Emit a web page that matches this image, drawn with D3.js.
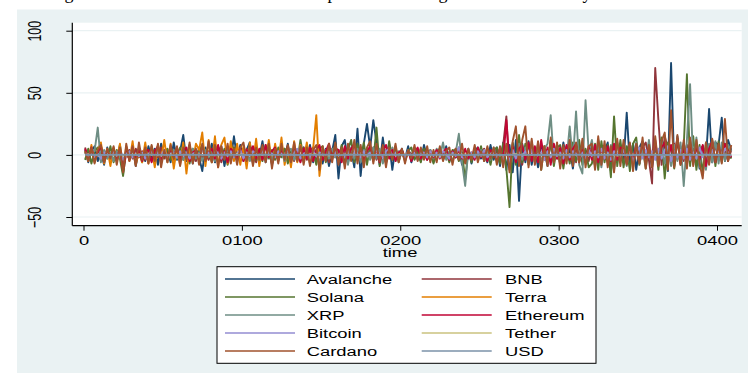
<!DOCTYPE html>
<html>
<head>
<meta charset="utf-8">
<script src="https://cdn.jsdelivr.net/npm/d3@7"></script>
<style>
  body { margin: 0; background: #fff; }
  svg { display: block; }
  text { font-family: "Liberation Sans", Arial, sans-serif; fill: #000; }
</style>
</head>
<body>
<svg id="chart" width="748" height="374"></svg>
<script>
// daily values, one every 2 time units starting at t = 1
const avalanche = [
  4, -6, 3, 7, -5, 2, -8, 6, -3, 5,
  -4, 8, -7, 3, -2, 6, -9, 4, 1, -5,
  7, -3, 5, -8, 9, -2, 4, -6, 10, -4,
  3, 16, -5, 8, -7, 4, -2, -13, 6, -3,
  9, -6, 2, 7, -9, 5, -4, 15, -3, 8,
  -5, 4, 10, -7, 3, -2, 11, -6, 5, -8,
  2, -4, 7, -3, 9, -6, 4, 1, -5, 6,
  -3, 8, -6, 4, 2, -7, 5, -9, 3, 16,
  -19, 7, 12, -6, 4, -10, 21, -17, 9, 25,
  6, 28, 10, -8, 14, -5, 9, -12, 6, -4,
  5, -3, 7, -6, 2, 4, -5, 8, -2, 3,
  -6, 4, 2, -3, 7, -5, 3, -2, 6, -8,
  -4, 5, -7, 3, 6, -3, 2, -6, 8, -4,
  6, -9, 10, -12, 8, -14, 12, -37, 9, -6,
  11, -8, 5, -10, 7, 3, -9, 12, -5, 8,
  -7, 10, -4, 6, -11, 8, -3, 9, -6, 4,
  7, -9, 12, -5, 3, 10, -13, 6, -4, 8,
  -6, 34, -8, 9, -12, 6, 11, -7, 4, -10,
  8, -5, 12, 6, -13, 74, -9, 15, -6, 10,
  -8, 12, -5, 9, -11, 7, -4, 37, -6, 10,
  8, 30, -5, 12, 4
];
const bnb = [
  6, -3, 4, -5, 2, 5, -4, 3, -2, 4,
  -5, 3, -15, 2, 4, -3, 5, -2, 3, -4,
  2, -5, 4, -2, 6, -3, 1, 4, -4, 3,
  -2, 5, -4, 3, 1, -5, 6, -3, 2, -4,
  4, -2, 5, -6, 3, 2, -4, 6, -3, 1,
  -3, 5, -2, 4, -6, 3, 2, -4, 7, -2,
  3, -4, 2, 5, -3, 1, -5, 4, -2, 6,
  -4, 3, 6, -5, 2, -3, 4, -6, 5, -2,
  4, -3, 6, -2, 3, -5, 7, -4, 2, 5,
  -3, 6, -4, 2, 5, -6, 3, -2, 4, -3,
  2, -4, 3, 1, -3, 4, -2, 3, -4, 2,
  -3, 2, 4, -2, 3, -4, 1, 5, -3, 2,
  -5, 3, -2, 4, -3, 2, 5, -4, 3, -2,
  4, -6, 8, 31, -12, 9, -5, 7, -8, 6,
  -4, 7, -3, 5, -6, 4, 2, -5, 6, -3,
  5, -4, 7, -2, 3, -6, 8, -3, 4, -5,
  6, -3, 4, -7, 5, 2, -4, 8, -5, 3,
  -6, 4, 9, -5, 3, -7, 6, 10, -4, -23,
  70, 28, -8, 15, 5, -6, 9, -4, 7, -5,
  8, -6, 5, -9, 4, 7, -5, 6, -3, 8,
  -4, 6, 3, -5, 4
];
const solana = [
  -4, 5, -7, 3, 6, -5, 2, -3, 7, -6,
  4, -3, -17, 5, -4, 6, -2, 3, -6, 4,
  -5, 7, -3, 4, -6, 2, 5, -4, 3, -2,
  6, -4, 3, -7, 5, -2, 4, 8, -5, 3,
  -6, 4, 7, -3, 5, -8, 3, 6, -4, 2,
  5, -7, 3, 6, -4, 2, -5, 8, -3, 4,
  -4, 6, -2, 5, -7, 3, 4, -5, 12, -3,
  6, -4, 3, -8, 5, 7, -6, 4, -3, 9,
  -5, 8, -7, 4, 12, -6, 9, -4, 10, -8,
  7, -5, 22, -9, 6, -7, 11, -4, 5, -6,
  4, -5, 3, 6, -4, 2, -6, 5, -3, 4,
  -7, 3, 5, -4, 2, -6, 4, 3, -5, 2,
  -20, 4, -6, 5, -3, 7, -5, 3, -8, 4,
  6, -7, 9, -11, -42, 10, -8, 16, -6, 9,
  -8, 11, -6, 9, -12, 7, -5, 10, -9, 6,
  8, -11, 6, -7, 10, -5, 12, -8, 5, -10,
  -7, 9, -12, 11, -6, 8, -18, 31, -9, 12,
  -10, 7, -13, 9, 14, -8, 6, -11, 10, -7,
  9, -12, 14, -19, 10, 6, -11, 13, -8, 7,
  65, -9, 15, -12, 8, -15, 10, -7, 12, -9,
  11, -6, 9, 5, -3
];
const terra = [
  3, -5, 8, -6, 4, 10, -7, 5, -9, 6,
  -4, 9, -12, 7, -5, 11, -8, 3, -6, 10,
  -7, 5, -10, 8, -4, 12, -6, 9, -11, 6,
  -8, 10, -15, 7, -5, 9, 4, 18, -9, 12,
  -6, 15, -10, 8, 14, -7, 11, -5, 9, -8,
  7, -11, 10, -6, 13, -9, 6, -4, 12, -7,
  9, -5, 14, -8, 6, -10, 11, -6, 8, -4,
  10, -7, 5, 32, -17, 6
];
const xrp = [
  2, -4, 5, 3, 22, -6, 4, -3, 2, -5,
  3, -2, -8, 4, -3, 5, -2, 3, -4, 2,
  -3, 4, -2, 5, -4, 3, -5, 2, 4, -3,
  2, -4, 3, -2, 5, -3, 2, -5, 4, -2,
  3, -5, 2, 4, -3, 5, -2, 3, -4, 2,
  -3, 4, -5, 2, 3, -4, 6, -2, 3, -5,
  4, -3, 2, -5, 3, 5, -4, 2, -3, 4,
  -2, 5, -4, 3, -6, 2, 4, -3, 5, -2,
  3, -5, 4, -8, 6, -3, 5, -6, 4, 3,
  -4, 6, -3, 5, -7, 4, -2, 6, -5, 3,
  2, -3, 4, -2, 3, -4, 5, -3, 2, 4,
  -3, 5, -2, 10, -4, 3, -5, 2, 17, -6,
  -25, 4, -3, 5, -2, 4, -5, 3, -4, 6,
  -3, 5, -6, 8, -10, 7, -5, 9, -4, 6,
  -5, 8, -4, 6, -7, 5, 9, 32, -6, 7,
  -8, 6, -4, 23, -5, 35, -8, -15, 44, 2,
  12, -6, 9, -10, 7, -5, 8, -12, 10, -4,
  6, -9, 8, -5, 10, -7, 5, -8, 12, -6,
  9, -4, 11, -7, 6, -9, 8, -5, 10, -25,
  12, 57, -8, 14, -10, 7, -12, 9, -6, 11,
  -7, 10, -5, 8, 3
];
const ethereum = [
  5, -3, 6, -4, 2, 7, -5, 3, -2, 4,
  -3, 5, -12, 3, -4, 6, -2, 4, -5, 3,
  4, -6, 3, 7, -4, 2, -3, 5, -2, 6,
  -4, 3, 6, -5, 2, 4, -3, 7, -4, 2,
  5, -3, 8, -4, 3, -6, 5, 2, -3, 6,
  -5, 4, 2, 7, -3, 5, -4, 8, -2, 3,
  6, -4, 3, -2, 7, -5, 4, 2, -6, 5,
  -3, 6, -5, 4, 8, -4, 3, 9, -2, 5,
  4, -6, 7, -3, 5, 9, -4, 6, -5, 3,
  7, -4, 5, -6, 3, 8, -3, 4, -5, 2,
  4, -2, 3, -5, 2, 6, -3, 2, -4, 3,
  -2, 4, -3, 2, 5, -4, 3, -2, 4, -3,
  5, -3, 2, -4, 6, -2, 3, -5, 4, 2,
  -4, 6, -5, 28, -9, 7, -6, 5, 8, -4,
  10, -5, 7, -6, 12, -4, 6, -8, 9, -3,
  6, -7, 8, -4, 5, 9, -6, 4, -5, 7,
  -4, 8, -6, 5, -3, 7, -5, 9, -4, 6,
  5, -7, 6, -4, 8, -5, 10, -3, 7, -6,
  12, -8, 6, 10, -5, 8, -4, 13, -7, 6,
  -5, 9, -6, 7, -4, 8, -9, 5, 11, -6,
  7, -4, 9, 3, -2
];
const bitcoin = [
  2, -1, 3, -2, 1, -3, 2, 1, -2, 3,
  -1, 2, -4, 1, 3, -2, 1, -1, 2, -3,
  1, 3, -2, 2, -1, 4, -3, 1, 2, -2,
  3, -1, 2, -3, 1, 2, -2, 5, -1, 2,
  -2, 4, 1, -3, 2, -1, 3, -2, 1, 4,
  -3, 2, -1, 3, 1, -2, 4, -3, 2, 1,
  -2, 3, 1, -1, 4, -2, 2, 5, -3, 1,
  2, -3, 3, -1, 2, 1, -2, 3, -4, 2,
  -1, 3, -2, 4, -3, 2, 1, -2, 3, -1,
  2, -3, 4, 1, -2, 3, 5, -1, 2, -3,
  1, -2, 3, -1, 2, -3, 1, 2, -2, 3,
  -1, 2, -2, 3, 1, -3, 2, -1, 6, -2,
  -3, 1, 2, -2, 3, -1, 4, -2, 1, 2,
  -2, 3, -4, 5, -6, 4, -3, 2, -1, 3,
  -2, 4, -3, 1, 2, -4, 3, -2, 5, -1,
  2, -3, 4, -2, 3, 1, -4, 2, -3, 4,
  -1, 3, -2, 5, -3, 2, -4, 3, 1, -2,
  4, -2, 3, -5, 2, 6, -3, 4, -2, 3,
  -4, 5, -3, 4, 7, -5, 3, -2, 4, -3,
  5, -4, 2, -3, 6, -2, 3, -5, 4, -1,
  3, -2, 5, 2, -1
];
// Tether and USD barely move, read every 8 time units
const tether = [
  0.4, -0.3, 0.2, -0.5, 0.3, 0.1, -0.4, 0.6, -0.2, 0.3,
  -0.6, 0.2, 0.5, -0.3, 0.1, -0.4, 0.3, -0.2, 0.6, -0.5,
  0.2, 0.4, -0.3, 0.1, -0.2, 0.5, -0.4, 0.3, -0.6, 0.2,
  0.4, -0.1, 0.3, -0.5, 0.6, -0.2, 0.1, -0.3, 0.5, -0.4,
  0.2, 0.7, -0.5, 0.3, -0.2, 0.4, -0.6, 0.3, 0.1, -0.3,
  0.5, -0.2
];
const cardano = [
  3, -5, 6, -7, 4, 8, -6, 5, -3, 7,
  -8, 6, -14, 9, -5, 7, -9, 10, -4, 6,
  -7, 8, -5, 9, -10, 4, -6, 8, -3, 7,
  -9, 6, -4, 10, -7, 5, -8, 9, -5, 11,
  -6, 8, -10, 7, -4, 9, -7, 5, -8, 6,
  10, -5, 7, -9, 6, -4, 8, -6, 9, -11,
  5, -7, 9, -4, 8, -6, 10, -5, 7, -8,
  6, -9, 4, 8, -12, 7, -5, 9, -6, 10,
  -8, 6, -11, 9, -5, 12, -7, 8, -10, 6,
  11, -7, 9, -5, 8, -10, 6, -4, 9, -6,
  5, -7, 4, -3, 8, -5, 6, -4, 7, -6,
  4, -6, 7, -5, 3, 6, -8, 5, -4, 9,
  -7, 5, -4, 8, -6, 3, -5, 7, -3, 6,
  -8, 7, -10, 9, -14, 11, 23, -9, 12, 23,
  -10, 13, -8, 11, -12, 7, -9, 14, -6, 10,
  -11, 8, -7, 12, -9, 10, -6, 13, -10, 7,
  9, -12, 15, -8, 11, -10, 7, -14, 13, -9,
  12, -8, 10, -13, 9, -7, 14, -11, 8, -10,
  15, -9, 11, 18, -12, 36, -10, 16, -8, 12,
  -11, 14, -9, 12, -7, -19, 10, -8, 13, -6,
  9, -7, 29, -5, 8
];
const usd = [
  0.1, -0.1, 0, 0.2, -0.1, 0.1, 0, -0.2, 0.1, 0,
  -0.1, 0.2, 0, -0.1, 0.1, 0, 0.1, -0.1, 0, 0.2,
  -0.2, 0.1, 0, -0.1, 0.1, 0, 0.2, -0.1, 0, 0.1,
  -0.2, 0.1, 0, -0.1, 0.2, 0, -0.1, 0.1, 0, 0.1,
  -0.1, 0.2, 0, -0.2, 0.1, 0, -0.1, 0.1, 0, 0.1,
  -0.1, 0
];

const yTicks = [-50, 0, 50, 100];
const xTicks = [0, 100, 200, 300, 400];
const xTickLabels = ["0", "0100", "0200", "0300", "0400"];

const series = [
  { name: "Avalanche", color: "#1a476f", step: 2, values: avalanche },
  { name: "BNB", color: "#90353b", step: 2, values: bnb },
  { name: "Solana", color: "#55752f", step: 2, values: solana },
  { name: "Terra", color: "#e37e00", step: 2, values: terra },
  { name: "XRP", color: "#6e8e84", step: 2, values: xrp },
  { name: "Ethereum", color: "#c10534", step: 2, values: ethereum },
  { name: "Bitcoin", color: "#938dd2", step: 2, values: bitcoin },
  { name: "Tether", color: "#cac27e", step: 8, values: tether },
  { name: "Cardano", color: "#a0522d", step: 2, values: cardano },
  { name: "USD", color: "#7b92a8", step: 8, values: usd }
];

const width = 748, height = 374;
const plot = { left: 72.3, right: 741.7, top: 22.7, bottom: 225.7 };
const SX = 1.47; // the picture's text is stretched sideways

const svg = d3.select("#chart");

svg.append("rect").attr("width", width).attr("height", height).attr("fill", "#fff");
svg.append("rect")
  .attr("x", 17).attr("y", 9.5)
  .attr("width", width - 17).attr("height", 363.5)
  .attr("fill", "#eaf2f3");

// clipped-off descenders of the document title above the graph
const titleBits = [["g", 69], ["p", 332], ["g", 443], ["y", 587]];
svg.append("g").selectAll("text").data(titleBits).join("text")
  .attr("x", d => d[1]).attr("y", -1)
  .attr("text-anchor", "middle")
  .style("font-family", "'Liberation Serif', 'DejaVu Serif', serif")
  .style("font-size", "18px")
  .text(d => d[0]);

svg.append("rect")
  .attr("x", plot.left).attr("y", plot.top)
  .attr("width", plot.right - plot.left).attr("height", plot.bottom - plot.top)
  .attr("fill", "#fff");

const x = d3.scaleLinear().domain([0, 400]).range([83.5, 717]);
const y = d3.scaleLinear().domain([-50, 100]).range([217, 30.7]);

// gridlines
svg.append("g").selectAll("line").data(yTicks).join("line")
  .attr("x1", plot.left).attr("x2", plot.right)
  .attr("y1", d => y(d)).attr("y2", d => y(d))
  .attr("stroke", "#eaf2f3").attr("stroke-width", 1.2);

svg.append("clipPath").attr("id", "plotclip")
  .append("rect")
  .attr("x", plot.left).attr("y", plot.top)
  .attr("width", plot.right - plot.left).attr("height", plot.bottom - plot.top);

const line = d3.line()
  .x(d => x(d.t))
  .y(d => y(d.v));

svg.append("g").attr("clip-path", "url(#plotclip)")
  .selectAll("path").data(series).join("path")
  .attr("d", s => line(s.values.map((v, i) => ({ t: 1 + i * s.step, v: v }))))
  .attr("fill", "none")
  .attr("stroke", s => s.color)
  .attr("stroke-width", 1.9)
  .attr("stroke-linejoin", "round");

// axes
const xAxis = svg.append("g")
  .attr("transform", `translate(0, ${plot.bottom})`)
  .call(d3.axisBottom(x).tickValues(xTicks).tickFormat((d, i) => xTickLabels[i]).tickSize(5).tickPadding(5));
xAxis.select(".domain").remove();
xAxis.selectAll(".tick line").attr("stroke", "#000");
xAxis.selectAll(".tick text")
  .attr("transform", `scale(${SX},1)`)
  .style("font-size", "12.5px")
  .style("font-family", "'Liberation Sans', Arial, sans-serif");

const yAxis = svg.append("g")
  .attr("transform", `translate(${plot.left}, 0)`)
  .call(d3.axisLeft(y).tickValues(yTicks).tickSize(6));
yAxis.select(".domain").remove();
yAxis.selectAll(".tick line").attr("stroke", "#000");
yAxis.selectAll(".tick text")
  .attr("x", null).attr("dy", null)
  .attr("text-anchor", "middle")
  .attr("transform", `translate(-31, 0) scale(${SX},1) rotate(-90)`)
  .style("font-size", "12.5px")
  .style("font-family", "'Liberation Sans', Arial, sans-serif");

svg.append("line")
  .attr("x1", plot.left).attr("x2", plot.right)
  .attr("y1", plot.bottom).attr("y2", plot.bottom)
  .attr("stroke", "#000").attr("stroke-width", 1.2);
svg.append("line")
  .attr("x1", plot.left).attr("x2", plot.left)
  .attr("y1", plot.top).attr("y2", plot.bottom)
  .attr("stroke", "#000").attr("stroke-width", 1.2);

svg.append("g")
  .attr("transform", `translate(400, 257) scale(${SX},1)`)
  .append("text")
  .attr("text-anchor", "middle")
  .style("font-size", "12.5px")
  .text("time");

// legend, two columns, row by row
const legend = svg.append("g");
legend.append("rect")
  .attr("x", 217).attr("y", 266.7)
  .attr("width", 379).attr("height", 96.6)
  .attr("fill", "#fff").attr("stroke", "#000").attr("stroke-width", 1);

const item = legend.selectAll("g.item").data(series).join("g")
  .attr("class", "item")
  .attr("transform", (d, i) => `translate(${i % 2 ? 421.7 : 225}, ${279 + Math.floor(i / 2) * 18})`);
item.append("line")
  .attr("x1", 0).attr("x2", 70)
  .attr("stroke", d => d.color).attr("stroke-width", 1.5);
item.append("g")
  .attr("transform", (d, i) => `translate(${i % 2 ? 83.3 : 81.7}, 4.5) scale(${SX},1)`)
  .append("text")
  .style("font-size", "12.5px")
  .text(d => d.name);
</script>
</body>
</html>
